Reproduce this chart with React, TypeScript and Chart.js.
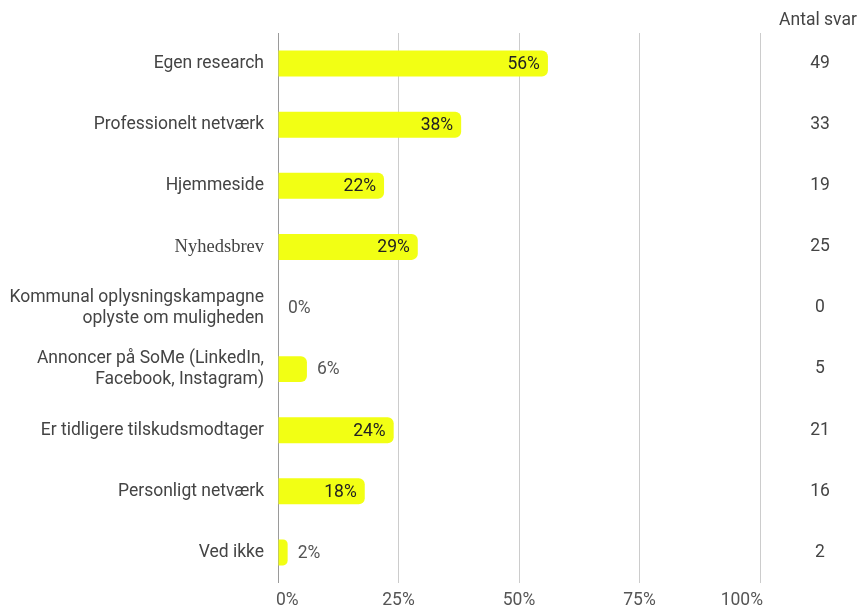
import React, { useEffect, useRef } from "react";
import { Chart, registerables } from "chart.js";

Chart.register(...registerables);

const categories: (string | string[])[] = [
  "Egen research",
  "Professionelt netværk",
  "Hjemmeside",
  "Nyhedsbrev",
  ["Kommunal oplysningskampagne", "oplyste om muligheden"],
  ["Annoncer på SoMe (LinkedIn,", "Facebook, Instagram)"],
  "Er tidligere tilskudsmodtager",
  "Personligt netværk",
  "Ved ikke",
];
const percentages = [56, 38, 22, 29, 0, 6, 24, 18, 2];
const counts = [49, 33, 19, 25, 0, 5, 21, 16, 2];
const xTicks = [0, 25, 50, 75, 100];
const countHeader = "Antal svar";

const FONT = "Roboto, 'Noto Sans', sans-serif";
const SERIF = "'Liberation Serif', 'DejaVu Serif', serif";
const FS = 17.5;

export default function App() {
  const ref = useRef<HTMLCanvasElement | null>(null);

  useEffect(() => {
    if (!ref.current) return;
    const overlay = {
      id: "overlay",
      afterDatasetsDraw(chart: any) {
        const ctx = chart.ctx;
        const meta = chart.getDatasetMeta(0);
        const xs = chart.scales.x;
        ctx.save();
        ctx.font = `${FS}px ${FONT}`;
        ctx.textBaseline = "middle";
        meta.data.forEach((bar: any, i: number) => {
          const v = percentages[i];
          const txt = `${v}%`;
          if (v >= 10) {
            ctx.fillStyle = "#222222";
            ctx.textAlign = "right";
            ctx.fillText(txt, bar.x - 8, bar.y + 1);
          } else {
            ctx.fillStyle = "#555555";
            ctx.textAlign = "left";
            ctx.fillText(txt, bar.x + 10, bar.y + 1);
          }
          ctx.fillStyle = "#444444";
          ctx.textAlign = "center";
          ctx.fillText(String(counts[i]), 820, bar.y);
        });
        ctx.fillStyle = "#444444";
        ctx.textAlign = "center";
        ctx.fillText(countHeader, 818, 21);
        // x tick labels
        ctx.fillStyle = "#555555";
        xTicks.forEach((t) => {
          const px = xs.getPixelForValue(t);
          const txt = `${t}%`;
          if (t === 0) {
            ctx.textAlign = "left";
            ctx.fillText(txt, px - 2, 601);
          } else if (t === 100) {
            ctx.textAlign = "right";
            ctx.fillText(txt, px + 3, 601);
          } else {
            ctx.textAlign = "center";
            ctx.fillText(txt, px, 601);
          }
        });
        ctx.restore();
      },
    };

    const chart = new Chart(ref.current, {
      type: "bar",
      data: {
        labels: categories,
        datasets: [
          {
            data: percentages,
            backgroundColor: "#F2FF14",
            borderWidth: 0,
            borderRadius: 6,
            borderSkipped: "start",
            barPercentage: 0.425,
            categoryPercentage: 1,
          },
        ],
      },
      options: {
        indexAxis: "y",
        animation: false,
        responsive: false,
        maintainAspectRatio: false,
        layout: { padding: { top: 33, right: 99, bottom: 24, left: 0 } },
        plugins: {
          legend: { display: false },
          tooltip: { enabled: false },
        },
        scales: {
          x: {
            min: 0,
            max: 100,
            ticks: { display: false, stepSize: 25 },
            grid: {
              drawTicks: false,
              color: (c: any) => (c.tick && c.tick.value === 0 ? "#9a9a9a" : "#cccccc"),
              lineWidth: 1,
            },
            border: { display: false },
          },
          y: {
            grid: { display: false },
            border: { display: false },
            afterFit: (scale: any) => {
              scale.width = 278;
            },
            ticks: {
              padding: 6,
              color: "#444444",
              font: (c: any) => ({
                family: c.index === 3 ? SERIF : FONT,
                size: c.index === 3 ? 18.5 : FS,
                lineHeight: 1.2,
              }),
            },
          },
        },
      },
      plugins: [overlay],
    });
    return () => chart.destroy();
  }, []);

  return (
    <div style={{ position: "fixed", left: 0, top: 0, width: 859, height: 607, background: "#fff" }}>
      <canvas ref={ref} width={859} height={607} style={{ width: 859, height: 607, display: "block" }} />
    </div>
  );
}
